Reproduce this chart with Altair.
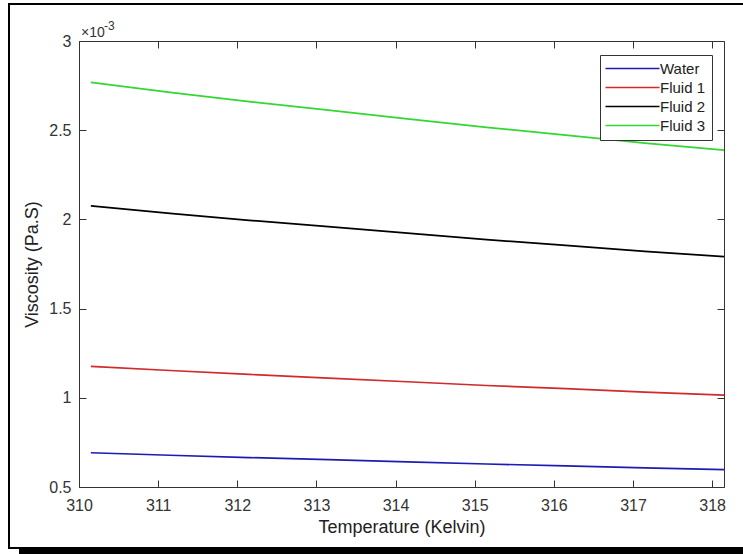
import altair as alt
import pandas as pd

# ---- data ----
temperature = [310.15, 311.15, 312.15, 313.15, 314.15, 315.15, 316.15, 317.15, 318.15]
water  = [0.692, 0.678, 0.665, 0.653, 0.641, 0.629, 0.618, 0.607, 0.597]
fluid1 = [1.176, 1.153, 1.131, 1.110, 1.090, 1.069, 1.051, 1.032, 1.015]
fluid2 = [2.076, 2.034, 1.995, 1.959, 1.923, 1.887, 1.854, 1.821, 1.791]
fluid3 = [2.768, 2.712, 2.660, 2.612, 2.564, 2.516, 2.472, 2.428, 2.388]
series_names = ["Water", "Fluid 1", "Fluid 2", "Fluid 3"]
series_colors = ["#1c1cb4", "#d02a2a", "#000000", "#33d633"]
x_ticks = [310, 311, 312, 313, 314, 315, 316, 317, 318]
y_ticks = [0.5, 1, 1.5, 2, 2.5, 3]
exp_base = "×10"
exp_power = "-3"

rows = []
for name, vals in zip(series_names, [water, fluid1, fluid2, fluid3]):
    for t, v in zip(temperature, vals):
        rows.append({"T": t, "V": v, "Series": name})
df = pd.DataFrame(rows)

FONT = "Liberation Sans"
AX = "#333333"
W, H = 645, 446

xscale = alt.Scale(domain=[310, 318.15], nice=False, zero=False)
yscale = alt.Scale(domain=[0.5, 3], nice=False, zero=False)

color = alt.Color(
    "Series:N",
    scale=alt.Scale(domain=series_names, range=series_colors),
    legend=alt.Legend(
        title=None, orient="none", legendX=521, legendY=14,
        symbolType="M-5.4,0H5.4", symbolSize=100, symbolStrokeWidth=1.6,
        symbolOffset=19,
        labelFont=FONT, labelFontSize=15, labelColor="#222222",
        labelOffset=20, padding=6, rowPadding=3,
        strokeColor=AX, fillColor="white", cornerRadius=0,
    ),
)

TICKC = AX

lines = alt.Chart(df).mark_line(strokeWidth=1.7).encode(
    x=alt.X("T:Q", scale=xscale,
            axis=alt.Axis(orient="bottom", values=x_ticks, format="d",
                          offset=-7, tickSize=7, domain=False, grid=False,
                          ticks=True, tickColor=TICKC, tickWidth=1,
                          labelFlush=False, labelPadding=10,
                          title="Temperature (Kelvin)", titlePadding=5)),
    y=alt.Y("V:Q", scale=yscale,
            axis=alt.Axis(orient="left", values=y_ticks, format="~g",
                          offset=-7, tickSize=7, domain=False, grid=False,
                          ticks=True, tickColor=TICKC, tickWidth=1,
                          labelFlush=False, labelPadding=8,
                          title="Viscosity (Pa.S)", titlePadding=7)),
    color=color,
)

mirror = alt.Chart(df).mark_line(opacity=0).encode(
    x=alt.X("T:Q", scale=xscale,
            axis=alt.Axis(orient="top", values=x_ticks, labels=False,
                          offset=-7, tickSize=7, domain=False, grid=False,
                          ticks=True, tickColor=TICKC, tickWidth=1,
                          title=None)),
    y=alt.Y("V:Q", scale=yscale,
            axis=alt.Axis(orient="right", values=y_ticks, labels=False,
                          offset=-7, tickSize=7, domain=False, grid=False,
                          ticks=True, tickColor=TICKC, tickWidth=1,
                          title=None)),
    detail="Series:N",
)

frame_df = pd.DataFrame({"k": [0]})
frame = alt.Chart(frame_df).mark_rect(fill="transparent", stroke="black",
                                      strokeWidth=2).encode(
    x=alt.value(-70), x2=alt.value(720), y=alt.value(-37), y2=alt.value(507))
bar = alt.Chart(frame_df).mark_rect(fill="black").encode(
    x=alt.value(-60), x2=alt.value(720), y=alt.value(508), y2=alt.value(520))

base_txt = alt.Chart(frame_df).mark_text(
    text=exp_base, align="left", baseline="alphabetic", font=FONT,
    fontSize=14, color=AX).encode(x=alt.value(2), y=alt.value(-4))
pow_txt = alt.Chart(frame_df).mark_text(
    text=exp_power, align="left", baseline="alphabetic", font=FONT,
    fontSize=12, color=AX).encode(x=alt.value(25), y=alt.value(-11))

chart = alt.layer(frame, bar, lines, mirror, base_txt, pow_txt).resolve_axis(
    x="independent", y="independent"
).properties(
    width=W, height=H,
    autosize=alt.AutoSizeParams(type="none"),
    padding={"left": 79, "top": 41, "right": 19, "bottom": 67},
).configure_view(
    stroke=AX, strokeWidth=1
).configure_axis(
    labelFont=FONT, labelFontSize=16, labelColor=AX,
    titleFont=FONT, titleFontSize=18, titleFontWeight="normal", titleColor="#222222",
)

chart.save("out.html", embed_options={"renderer": "svg", "actions": False})
